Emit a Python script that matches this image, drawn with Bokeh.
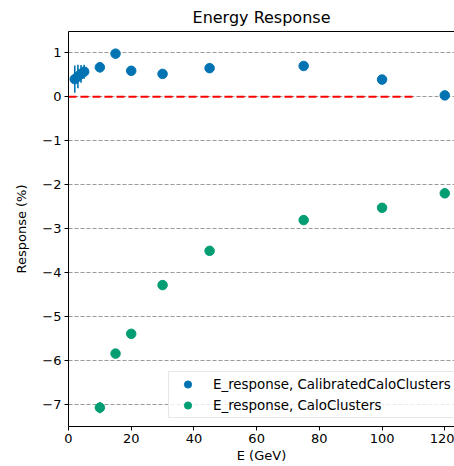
import numpy as np
from bokeh.plotting import figure
from bokeh.models import (ColumnDataSource, Range1d, FixedTicker, LinearAxis,
                          Legend, LegendItem)
from bokeh.embed import file_html
from bokeh.resources import INLINE

# ---- data -------------------------------------------------------------
energy_cal = [2, 3, 4, 5, 10, 15, 20, 30, 45, 75, 100, 120]
resp_cal = [0.40, 0.46, 0.52, 0.57, 0.67, 0.98, 0.59, 0.52, 0.65, 0.70, 0.39, 0.03]
err_cal = [0.31, 0.27, 0.20, 0.16, 0.12, 0.05, 0.04, 0.03, 0.03, 0.03, 0.03, 0.03]

energy_raw = [10, 15, 20, 30, 45, 75, 100, 120]
resp_raw = [-7.08, -5.85, -5.40, -4.29, -3.51, -2.81, -2.53, -2.20]
err_raw = [0.13, 0.08, 0.05, 0.04, 0.03, 0.03, 0.03, 0.03]

ref_x = [0, 110]
ref_y = [0, 0]

x_ticks = [0, 20, 40, 60, 80, 100, 120]
y_ticks = [-7, -6, -5, -4, -3, -2, -1, 0, 1]
y_tick_labels = ["\u22127", "\u22126", "\u22125", "\u22124", "\u22123",
                 "\u22122", "\u22121", "0", "1"]

label_cal = "E_response, CalibratedCaloClusters"
label_raw = "E_response, CaloClusters"

BLUE = "#0173b2"
GREEN = "#029e73"
FONT = "DejaVu Sans"


def make_source(x, y, e):
    x = np.asarray(x, float)
    y = np.asarray(y, float)
    e = np.asarray(e, float)
    return ColumnDataSource(dict(x=x, y=y, lo=y - e, hi=y + e))


src_cal = make_source(energy_cal, resp_cal, err_cal)
src_raw = make_source(energy_raw, resp_raw, err_raw)

p = figure(width=454, height=466,
           x_range=Range1d(0, 123.1), y_range=Range1d(-7.51, 1.485),
           output_backend="svg", toolbar_location=None,
           min_border_left=68, min_border_right=0,
           min_border_top=31, min_border_bottom=40,
           title="Energy Response")

p.title.text_font = FONT
p.title.text_font_size = "16px"
p.title.text_font_style = "normal"
p.title.text_color = "black"
p.title.align = "center"

p.outline_line_color = None
p.background_fill_color = "white"
p.border_fill_color = "white"

# grid
p.xgrid.grid_line_color = None
p.ygrid.ticker = FixedTicker(ticks=y_ticks)
p.ygrid.grid_line_color = "#9a9a9a"
p.ygrid.grid_line_dash = "4 2"
p.ygrid.grid_line_width = 1

# axes
for ax in (p.xaxis[0], p.yaxis[0]):
    ax.axis_line_color = "black"
    ax.major_tick_line_color = "black"
    ax.major_tick_out = 4
    ax.major_tick_in = 0
    ax.minor_tick_line_color = None
    ax.major_label_text_font = FONT
    ax.major_label_text_font_size = "13px"
    ax.major_label_text_color = "black"
    ax.axis_label_text_font = FONT
    ax.axis_label_text_font_size = "13px"
    ax.axis_label_text_font_style = "normal"
    ax.axis_label_text_color = "black"

p.xaxis[0].ticker = FixedTicker(ticks=x_ticks)
p.xaxis[0].axis_label = "E (GeV)"
p.xaxis[0].major_label_standoff = 3
p.xaxis[0].axis_label_standoff = 2

p.yaxis[0].ticker = FixedTicker(ticks=y_ticks)
p.yaxis[0].major_label_overrides = {t: l for t, l in zip(y_ticks, y_tick_labels)}
p.yaxis[0].axis_label = "Response (%)"
p.yaxis[0].major_label_standoff = 3
p.yaxis[0].axis_label_standoff = 10

# top spine (no right spine: cropped)
top = LinearAxis(ticker=FixedTicker(ticks=[]), axis_line_color="black",
                 major_tick_line_color=None, minor_tick_line_color=None,
                 major_label_text_font_size="0px", major_label_standoff=0,
                 axis_label_standoff=0)
p.add_layout(top, "above")

# reference line
p.line(ref_x, ref_y, line_color="red", line_width=2, line_dash="8 4")

# error bars and points
p.segment(x0="x", y0="lo", x1="x", y1="hi", source=src_cal,
          line_color=BLUE, line_width=1.6)
r_cal = p.scatter("x", "y", source=src_cal, marker="circle", size=9.5,
                  fill_color=BLUE, line_color=BLUE)
p.segment(x0="x", y0="lo", x1="x", y1="hi", source=src_raw,
          line_color=GREEN, line_width=1.6)
r_raw = p.scatter("x", "y", source=src_raw, marker="circle", size=9.5,
                  fill_color=GREEN, line_color=GREEN)

legend = Legend(items=[LegendItem(label=label_cal, renderers=[r_cal]),
                       LegendItem(label=label_raw, renderers=[r_raw])],
                location=(100, 8))
legend.label_text_font = FONT
legend.label_text_font_size = "13.4px"
legend.label_text_color = "black"
legend.glyph_width = 31
legend.glyph_height = 18
legend.label_height = 18
legend.label_standoff = 10
legend.spacing = 3
legend.padding = 3
legend.margin = 0
legend.border_line_color = "#d0d0d0"
legend.border_line_width = 1
legend.background_fill_alpha = 0.8
p.add_layout(legend, "center")

open("out.html", "w").write(file_html(p, INLINE))
